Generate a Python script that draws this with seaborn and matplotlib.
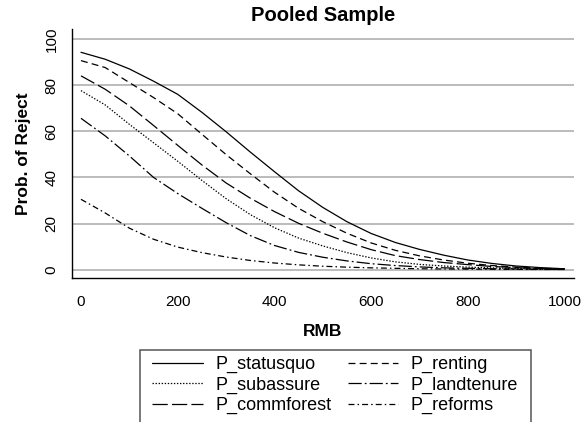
import matplotlib
matplotlib.use("Agg")
import matplotlib.pyplot as plt
import seaborn as sns
import pandas as pd
from matplotlib.patches import Rectangle

rmb = [0, 50, 100, 150, 200, 250, 300, 350, 400, 450, 500, 550, 600, 650, 700, 750, 800, 850, 900, 950, 1000]
p_statusquo = [94.2, 91.2, 87.0, 81.7, 76.0, 68.2, 59.8, 51.0, 42.5, 34.2, 27.0, 20.8, 15.7, 11.8, 8.8, 6.3, 4.2, 2.7, 1.6, 0.9, 0.4]
p_renting = [90.6, 87.6, 81.1, 74.6, 67.6, 58.7, 49.9, 41.6, 33.6, 26.6, 20.8, 15.8, 11.6, 8.4, 6.0, 4.2, 2.8, 1.8, 1.1, 0.6, 0.3]
p_subassure = [77.6, 71.4, 63.0, 55.0, 47.0, 38.7, 30.8, 23.9, 18.2, 13.7, 10.3, 7.4, 5.1, 3.4, 2.3, 1.6, 1.1, 0.8, 0.5, 0.3, 0.2]
p_landtenure = [65.6, 58.0, 49.3, 40.0, 33.0, 26.6, 20.4, 14.8, 10.5, 7.5, 5.4, 3.8, 2.6, 1.8, 1.2, 0.8, 0.6, 0.4, 0.3, 0.2, 0.1]
p_commforest = [84.0, 78.2, 71.0, 62.5, 53.9, 45.4, 37.6, 31.0, 25.2, 20.1, 15.8, 12.0, 8.7, 6.1, 4.4, 3.1, 2.2, 1.4, 0.9, 0.5, 0.3]
p_reforms = [30.5, 24.6, 18.0, 13.2, 9.8, 7.4, 5.5, 4.0, 2.9, 2.1, 1.5, 1.1, 0.8, 0.6, 0.4, 0.3, 0.25, 0.2, 0.15, 0.1, 0.1]

series_names = ["P_statusquo", "P_renting", "P_subassure", "P_landtenure", "P_commforest", "P_reforms"]
series_vals = [p_statusquo, p_renting, p_subassure, p_landtenure, p_commforest, p_reforms]
x_ticks = [0, 200, 400, 600, 800, 1000]
y_ticks = [0, 20, 40, 60, 80, 100]

rows = []
for name, vals in zip(series_names, series_vals):
    for x, v in zip(rmb, vals):
        rows.append({"RMB": x, "prob": v, "series": name})
df = pd.DataFrame(rows)

sns.set_style("white")
plt.rcParams["font.family"] = ["Liberation Sans", "DejaVu Sans"]
plt.rcParams["lines.scale_dashes"] = False
for k in ["text.color", "axes.labelcolor", "xtick.color", "ytick.color"]:
    plt.rcParams[k] = "black"

dashes = {
    "P_statusquo": "",
    "P_renting": (5.0, 3.0),
    "P_subassure": (1.0, 1.2),
    "P_landtenure": (9.5, 2.2, 1.3, 2.2),
    "P_commforest": (11.0, 3.0),
    "P_reforms": (4.3, 2.2, 1.1, 2.2),
}

fig = plt.figure(figsize=(5.82, 4.22), dpi=100)
W, H = 582, 422
ax = fig.add_axes([71.7 / W, 1 - 278 / H, (574 - 71.7) / W, (278 - 29) / H])

sns.lineplot(data=df, x="RMB", y="prob", hue="series", style="series",
             hue_order=series_names, style_order=series_names,
             palette=["black"] * 6, dashes=dashes, linewidth=0.9,
             legend=False, ax=ax)

ax.set_xlim(-19.2, 1019.6)
ax.set_ylim(-3.6, 104.3)
ax.set_xticks(x_ticks)
ax.set_yticks(y_ticks)
ax.set_xticklabels([str(t) for t in x_ticks], fontsize=11)
ax.set_yticklabels([str(t) for t in y_ticks], fontsize=11, rotation=90, va="center")
ax.tick_params(axis="both", direction="out", length=4.5, width=0.9, color="black", pad=5)
ax.tick_params(axis="x", pad=7.5)
ax.yaxis.grid(True, color="#aaaaaa", linewidth=1.1)
ax.xaxis.grid(False)
ax.set_axisbelow(True)
for s in ["top", "right"]:
    ax.spines[s].set_visible(False)
for s in ["left", "bottom"]:
    ax.spines[s].set_color("black")
    ax.spines[s].set_linewidth(1.0)

ax.set_xlabel("RMB", fontsize=12.5, fontweight="bold", labelpad=11)
ax.set_ylabel("Prob. of Reject", fontsize=12.5, fontweight="bold", labelpad=10)
ax.set_title("Pooled Sample", fontsize=14.5, fontweight="bold", pad=6)

lines = ax.get_lines()
line_map = {name: ln for name, ln in zip(series_names, lines)}
order = ["P_statusquo", "P_subassure", "P_commforest", "P_renting", "P_landtenure", "P_reforms"]
leg = fig.legend([line_map[n] for n in order], order, ncol=2, loc="upper left",
                 bbox_to_anchor=(152 / W, 1 - 356 / H), frameon=False,
                 fontsize=13, handlelength=2.8, handletextpad=0.7,
                 columnspacing=0.9, labelspacing=0.18, borderpad=0, borderaxespad=0)
for h in leg.legend_handles:
    h.set_color("black")

fig.patches.append(Rectangle((140 / W, 1 - 435 / H), (531 - 140) / W, (435 - 350) / H,
                             transform=fig.transFigure, fill=False,
                             edgecolor="#555555", linewidth=1.1))

fig.savefig("out.png", dpi=100)
